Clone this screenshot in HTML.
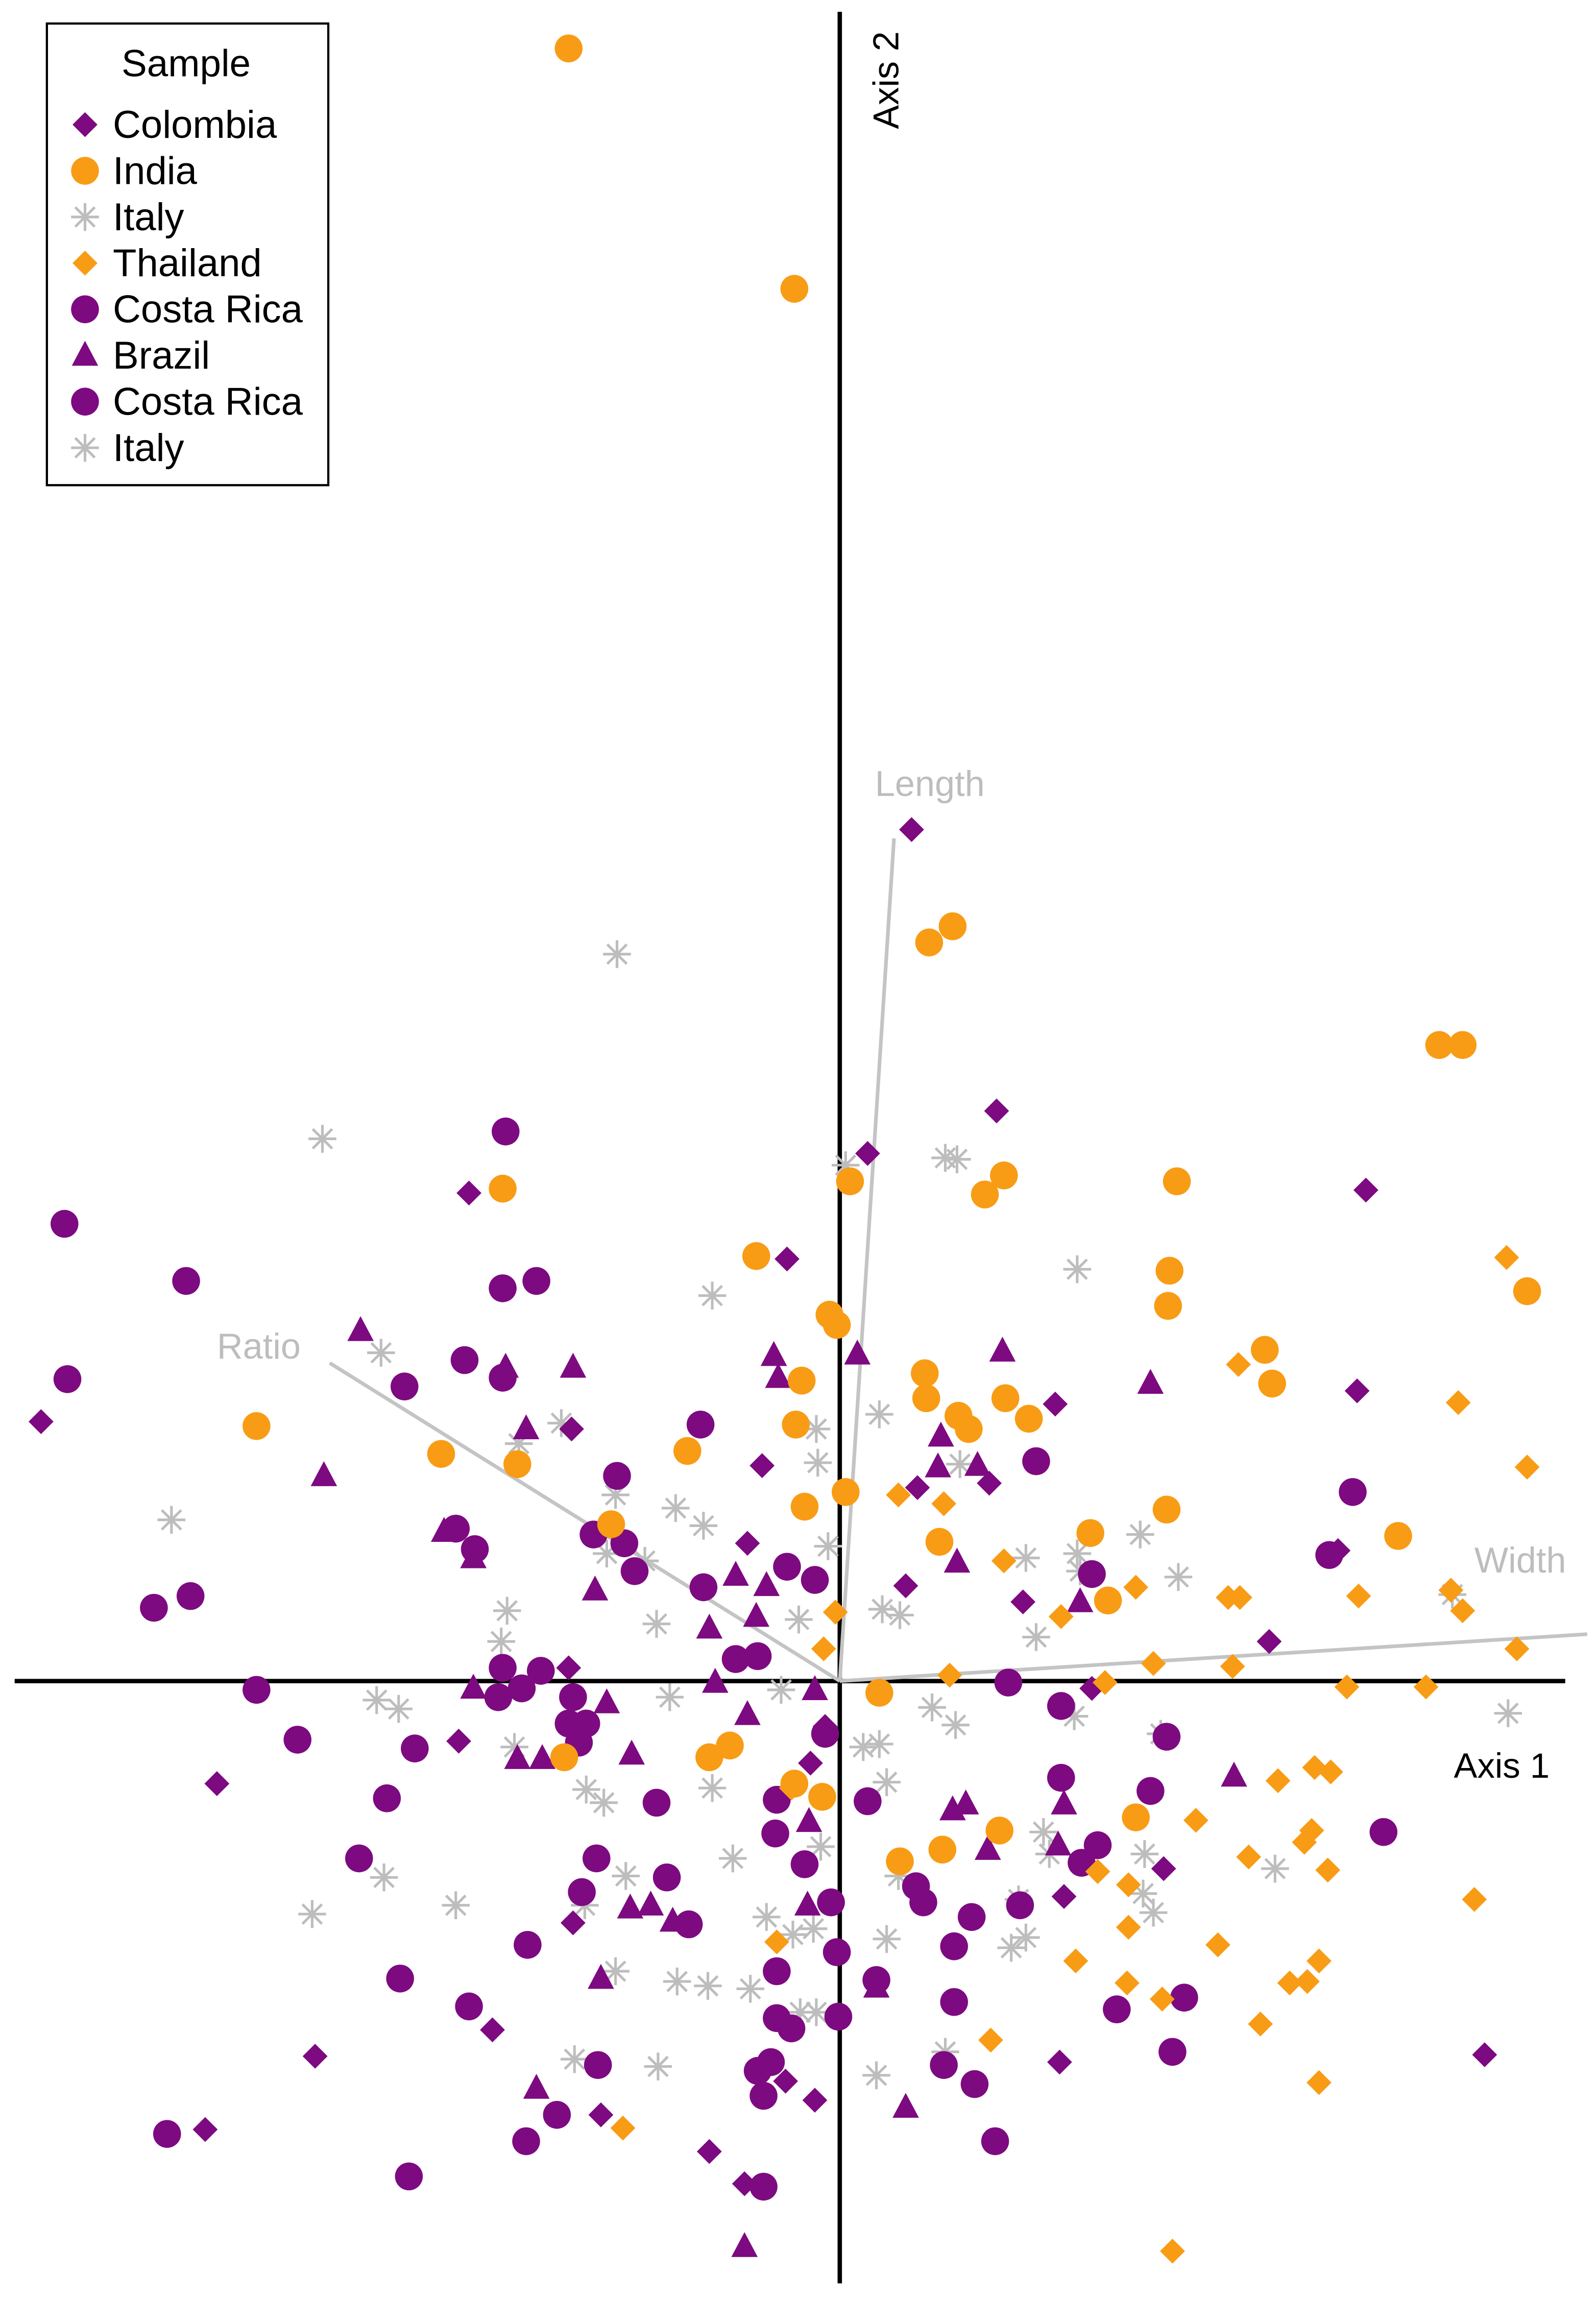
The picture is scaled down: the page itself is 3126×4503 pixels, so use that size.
<!DOCTYPE html>
<html>
<head>
<meta charset="utf-8">
<style>
html,body{margin:0;padding:0;background:#fff;}
svg{display:block;}
text{font-family:"Liberation Sans",Arial,sans-serif;}
</style>
</head>
<body>
<svg id="chart" width="3126" height="4503" viewBox="0 0 1089 1568.6" xmlns="http://www.w3.org/2000/svg">
  <rect x="0" y="0" width="1089" height="1568.6" fill="#fff"/>
  <g id="axes">
    <line x1="573" y1="8" x2="573" y2="1558" stroke="#000" stroke-width="3"/>
    <line x1="10" y1="1147" x2="1068" y2="1147" stroke="#000" stroke-width="3"/>
    <text x="0" y="0" font-size="24.5" transform="translate(613,88) rotate(-90)">Axis 2</text>
    <text x="992" y="1213" font-size="24">Axis 1</text>
  </g>
  <g id="loadings"></g>
  <g id="points"></g>
  <g id="legend">
    <rect x="32" y="16" width="192" height="315" fill="#fff" stroke="#000" stroke-width="1.5"/>
    <text x="127" y="52" font-size="26" text-anchor="middle">Sample</text>
  </g>
</svg>
<script>
// Data: scores in axis units (x = Axis 1, y = Axis 2)
const colombiaX=[49,107,19,-253,-36,359,-545,-183,147,353,-53,53,102,-63,45,125,293,-185,-260,-425,-20,-182,153,221,-237,-358,-163,-433,-89,-37,-17,150,440,172,340,-10,-65];
const colombiaY=[581,389,360,333,288,335,177,172,189,198,147,132,135,94,65,54,27,9,-41,-70,-56,-165,-147,-128,-238,-256,-296,-306,-321,-273,-286,-260,-255,-5,89,-31,-343];
const indiaX=[-185,-31,61,77,409,425,-230,7,99,112,230,-57,225,224,469,-7,-2,290,295,58,-26,59,113,129,81,88,-398,-30,-104,-272,-220,4,-24,223,-156,68,171,381,183,27,-89,-75,-188,109,202,70,41,-31,-12];
const indiaY=[1114,950,504,515,434,434,336,341,332,345,341,290,280,256,266,250,243,226,203,210,205,193,193,179,181,172,174,175,157,155,148,129,119,117,107,95,101,99,55,-8,-52,-44,-52,-102,-93,-115,-123,-70,-79];
const thailandX=[455,272,422,469,40,71,112,202,265,273,354,417,425,151,462,214,268,75,346,400,181,324,335,299,243,322,317,279,333,176,197,433,197,258,-43,161,327,307,319,196,220,287,103,327,-148,227,-33,-3,-11];
const thailandY=[289,216,190,146,127,121,82,64,57,57,58,62,48,44,22,12,10,4,-4,-4,-1,-59,-62,-68,-95,-102,-110,-120,-129,-130,-139,-149,-168,-180,-178,-191,-191,-206,-205,-206,-217,-234,-245,-274,-305,-389,-73,47,22];
const costaRicaX=[-529,-446,-527,-228,-230,-207,-256,-230,-297,-95,-152,-262,-249,-168,-147,-140,-93,-36,-17,-468,-443,134,350,334,172,-71,-56,-230,-204,-398,-233,-217,-182,-185,-178,-370,-290,-309,-125,-43,19,-10,115,151,223,212,151,371,-328,-166,-44,-24,52,176,165,-176,-118,-103,-213,-6,-2,57,90,78,123,-300,-253,-43,25,78,189,235,-43,-33,-1,-165,-56,-47,71,92,227,-193,-214,-459,-52,106,-294,-52,-173];
const costaRicaY=[312,273,206,375,268,273,219,207,201,175,140,104,90,100,94,75,64,78,69,50,58,150,129,86,73,15,17,9,7,-6,-11,-5,-11,-29,-42,-40,-46,-80,-83,-81,-82,-36,-1,-17,-38,-75,-66,-103,-121,-121,-104,-125,-140,-112,-124,-144,-134,-166,-180,-151,-185,-151,-161,-181,-153,-203,-222,-198,-204,-219,-224,-216,-230,-237,-229,-262,-266,-260,-262,-275,-253,-296,-314,-309,-283,-314,-338,-345,-29];
const brazilX=[-327,-182,-228,-45,-42,12,111,212,-352,-214,69,67,94,-270,-250,-167,-71,-50,80,164,-89,-57,-250,-159,-85,-17,-63,-220,-203,-142,77,86,101,153,269,149,-21,-143,-129,-114,-22,-163,25,-207,45,-65];
const brazilY=[239,214,214,222,207,223,225,203,140,172,167,146,147,102,84,62,72,65,81,54,36,44,-5,-15,-1,-6,-23,-53,-53,-50,-88,-84,-115,-84,-65,-112,-96,-155,-153,-164,-153,-203,-209,-278,-291,-386];
const italyX=[-152,-353,4,72,80,162,-87,-313,27,-190,-16,-219,-15,82,-456,-153,-112,-93,-8,205,-159,-133,127,162,164,231,-227,-125,-28,29,41,134,-231,418,-316,-301,-116,-40,63,79,456,160,-222,16,27,219,-173,-161,-87,32,139,-73,143,208,297,-311,-146,40,-360,-262,-174,-50,-32,-18,122,214,32,117,127,-153,-111,-90,-61,-27,-16,-181,-124,25,72,-13,207];
const italyY=[496,370,352,357,356,281,263,224,182,176,172,162,149,148,110,127,118,106,92,100,87,82,84,87,75,71,48,39,42,49,45,30,27,59,-13,-19,-11,-6,-18,-30,-22,-24,-45,-45,-43,-36,-74,-83,-73,-69,-103,-121,-118,-118,-128,-134,-133,-133,-159,-153,-153,-161,-173,-169,-149,-158,-176,-182,-175,-198,-205,-208,-210,-226,-226,-258,-263,-269,-253,-113,-145];
// Loading vectors
const loadingNames=["Length","Ratio","Width"];
const loadingX=[37,-348,510];
const loadingY=[575,217,32];
const legendLabels=["Colombia","India","Italy","Thailand","Costa Rica","Brazil","Costa Rica","Italy"];
const legendShapes=["diamond","circle","star","diamond","circle","triangle","circle","star"];
const legendColors=["purple","orange","gray","orange","purple","purple","purple","gray"];

const NS="http://www.w3.org/2000/svg";
const COLORS={purple:"#7d0a80",orange:"#f89c15",gray:"#bdbdbd"};
function xs(v){return 573+v;}
function ys(v){return 1147-v;}

function marker(parent,shape,color,cx,cy,name){
  let el;
  const c=COLORS[color];
  if(shape==="circle"){
    el=document.createElementNS(NS,"circle");
    el.setAttribute("cx",cx);el.setAttribute("cy",cy);el.setAttribute("r",9.5);
    el.setAttribute("fill",c);
  }else if(shape==="diamond"){
    el=document.createElementNS(NS,"polygon");
    const d=8.5;
    el.setAttribute("points",`${cx},${cy-d} ${cx+d},${cy} ${cx},${cy+d} ${cx-d},${cy}`);
    el.setAttribute("fill",c);
  }else if(shape==="triangle"){
    el=document.createElementNS(NS,"polygon");
    el.setAttribute("points",`${cx},${cy-10} ${cx+9},${cy+7} ${cx-9},${cy+7}`);
    el.setAttribute("fill",c);
  }else{
    el=document.createElementNS(NS,"path");
    const a=9.5,b=a*0.7;
    el.setAttribute("d",`M${cx-a},${cy}H${cx+a}M${cx},${cy-a}V${cy+a}M${cx-b},${cy-b}L${cx+b},${cy+b}M${cx-b},${cy+b}L${cx+b},${cy-b}`);
    el.setAttribute("stroke",c);el.setAttribute("stroke-width",1.8);el.setAttribute("fill","none");
  }
  
  
  parent.appendChild(el);
}

const lg=document.getElementById("loadings");
const labelPos=[[597,543],[148,927],[1006,1073]];
for(let i=0;i<loadingNames.length;i++){
  const l=document.createElementNS(NS,"line");
  l.setAttribute("x1",xs(0));l.setAttribute("y1",ys(0));
  l.setAttribute("x2",xs(loadingX[i]));l.setAttribute("y2",ys(loadingY[i]));
  l.setAttribute("stroke","#c4c4c4");l.setAttribute("stroke-width",2.5);
  
  
  lg.appendChild(l);
  const t=document.createElementNS(NS,"text");
  t.setAttribute("x",labelPos[i][0]);t.setAttribute("y",labelPos[i][1]);
  t.setAttribute("font-size",24.5);t.setAttribute("fill","#bdbdbd");
  t.textContent=loadingNames[i];
  
  
  lg.appendChild(t);
}

const pg=document.getElementById("points");
const series=[
  [italyX,italyY,"star","gray","italy"],
  [costaRicaX,costaRicaY,"circle","purple","costa-rica"],
  [brazilX,brazilY,"triangle","purple","brazil"],
  [colombiaX,colombiaY,"diamond","purple","colombia"],
  [indiaX,indiaY,"circle","orange","india"],
  [thailandX,thailandY,"diamond","orange","thailand"]
];
for(const s of series){
  for(let i=0;i<s[0].length;i++){
    marker(pg,s[2],s[3],xs(s[0][i]),ys(s[1][i]),"point-"+s[4]);
  }
}

const leg=document.getElementById("legend");
for(let i=0;i<legendLabels.length;i++){
  const y=85+i*31.5;
  marker(leg,legendShapes[i],legendColors[i],58,y,"legend-marker-"+legendLabels[i].toLowerCase().replace(" ","-"));
  const t=document.createElementNS(NS,"text");
  t.setAttribute("x",77);t.setAttribute("y",y+9);t.setAttribute("font-size",26.5);
  t.textContent=legendLabels[i];
  
  
  leg.appendChild(t);
}
</script>
</body>
</html>
